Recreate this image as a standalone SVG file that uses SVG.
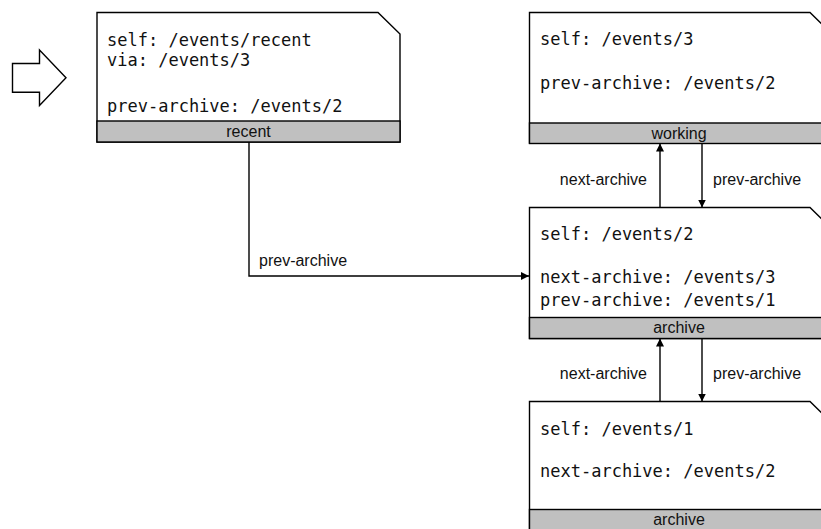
<svg xmlns="http://www.w3.org/2000/svg" width="821" height="529" viewBox="0 0 821 529">
  <style>
    .doc { fill: #ffffff; stroke: #000000; stroke-width: 1.4; }
    .band { fill: #c0c0c0; stroke: #000000; stroke-width: 1.4; }
    .mono { font-family: "DejaVu Sans Mono", "Liberation Mono", monospace; font-size: 17px; fill: #111111; }
    .tag { font-family: "Liberation Sans", Arial, sans-serif; font-size: 16px; fill: #111111; }
    .mid { text-anchor: middle; }
    .end { text-anchor: end; }
    .link { fill: none; stroke: #000000; stroke-width: 1.4; }
  </style>
  <defs>
    <marker id="head" viewBox="0 0 10 10" refX="10" refY="5" markerWidth="8" markerHeight="8" markerUnits="userSpaceOnUse" orient="auto">
      <path d="M0,0 L10,5 L0,10 Z" fill="#000000"/>
    </marker>
  </defs>

  <!-- entry point arrow -->
  <g id="entry">
    <path class="doc" d="M12.5,63.5 H39.5 V50 L66,77.7 L39.5,105.5 V92.3 H12.5 Z"/>
  </g>

  <!-- recent document -->
  <g id="recent">
    <path class="doc" d="M97,12.5 H378 L400,34 V142 H97 Z"/>
    <rect class="band" x="97" y="121" width="303" height="21"/>
    <text class="mono" x="107" y="46">self: /events/recent</text>
    <text class="mono" x="107" y="66">via: /events/3</text>
    <text class="mono" x="107" y="112">prev-archive: /events/2</text>
    <text class="tag mid" x="248.5" y="137">recent</text>
  </g>

  <!-- working document /events/3 -->
  <g id="events3">
    <path class="doc" d="M529.5,12.5 H810 L832,34 V143 H529.5 Z"/>
    <rect class="band" x="529.5" y="123" width="303" height="20.5"/>
    <text class="mono" x="540" y="45">self: /events/3</text>
    <text class="mono" x="540" y="88.5">prev-archive: /events/2</text>
    <text class="tag mid" x="679" y="138.5">working</text>
  </g>

  <!-- archive document /events/2 -->
  <g id="events2">
    <path class="doc" d="M529.5,207.5 H810 L832,229 V338.5 H529.5 Z"/>
    <rect class="band" x="529.5" y="317.5" width="303" height="21"/>
    <text class="mono" x="540" y="239.5">self: /events/2</text>
    <text class="mono" x="540" y="283">next-archive: /events/3</text>
    <text class="mono" x="540" y="306">prev-archive: /events/1</text>
    <text class="tag mid" x="679" y="333">archive</text>
  </g>

  <!-- archive document /events/1 -->
  <g id="events1">
    <path class="doc" d="M529.5,401.5 H810 L832,423 V540 H529.5 Z"/>
    <rect class="band" x="529.5" y="509.5" width="303" height="30"/>
    <text class="mono" x="540" y="435">self: /events/1</text>
    <text class="mono" x="540" y="477">next-archive: /events/2</text>
    <text class="tag mid" x="679" y="525">archive</text>
  </g>

  <!-- links between documents -->
  <g id="connectors">
    <path class="link" d="M249,142 V276 H529" marker-end="url(#head)"/>
    <text class="tag" x="259" y="266">prev-archive</text>

    <path class="link" d="M660,207.5 V143.5" marker-end="url(#head)"/>
    <path class="link" d="M702,143.5 V207.5" marker-end="url(#head)"/>
    <text class="tag end" x="647" y="185">next-archive</text>
    <text class="tag" x="713" y="185">prev-archive</text>

    <path class="link" d="M660,401.5 V338.5" marker-end="url(#head)"/>
    <path class="link" d="M702,338.5 V401.5" marker-end="url(#head)"/>
    <text class="tag end" x="647" y="379">next-archive</text>
    <text class="tag" x="713" y="379">prev-archive</text>
  </g>
</svg>
